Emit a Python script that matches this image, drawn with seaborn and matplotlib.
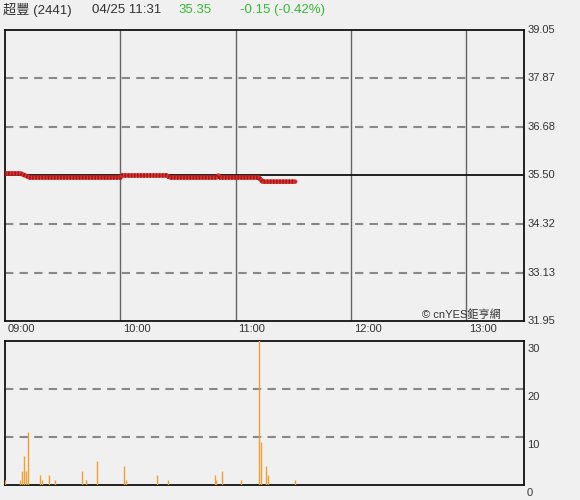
import seaborn as sns
import pandas as pd
import numpy as np
import matplotlib.pyplot as plt

# price path: minutes after 09:00 and price
price_min = [0, 8, 13, 60, 61, 84, 86, 110, 111, 112, 132, 134, 151]
price_val = [35.55, 35.55, 35.45, 35.45, 35.50, 35.50, 35.45, 35.45, 35.50, 35.45, 35.45, 35.35, 35.35]

# volume per minute (only minutes with trades)
vol_min = [0, 8, 9, 10, 11, 12, 18, 19, 23, 26, 40, 42, 48, 62, 63, 79, 85, 109, 110, 113, 123, 132, 133, 136, 137, 151]
vol_val = [1, 1, 3, 6, 3, 11, 2, 1, 2, 1, 3, 1, 5, 4, 1, 2, 1, 2, 1, 3, 1, 32, 9, 4, 2, 1]

price_ticks = [31.95, 33.13, 34.32, 35.50, 36.68, 37.87, 39.05]
vol_ticks = [0, 10, 20, 30]
time_ticks = [0, 60, 120, 180, 240]
time_labels = ["09:00", "10:00", "11:00", "12:00", "13:00"]

sns.set_theme(style="white")
plt.rcParams['font.family'] = ['Liberation Sans', 'Noto Sans CJK TC', 'DejaVu Sans']

bg = "#f0f0f0"
fig = plt.figure(figsize=(5.8, 5.0), dpi=100, facecolor=bg)
ax = fig.add_axes([5/580, 1-321/500, 519/580, 291/500], facecolor=bg)
ax2 = fig.add_axes([5/580, 1-485/500, 519/580, 144/500], facecolor=bg)

df = pd.DataFrame({"t": price_min, "p": price_val})

# grid lines in the price panel
for t in time_ticks[1:]:
    ax.axvline(t, color="#666666", lw=1, zorder=1)
for p in price_ticks[1:-1]:
    if p == 35.50:
        ax.axhline(p, color="#111111", lw=1.3, zorder=1)
    else:
        ax.axhline(p, color="#888888", lw=1.5, ls=(0, (4, 3)), zorder=1)

sns.lineplot(data=df, x="t", y="p", ax=ax, color="#e03030", lw=3.2, zorder=3)
ax.plot(df["t"], df["p"], color="#a01a1a", lw=3.2, ls=(0, (0.35, 0.35)), zorder=4)

ax.set_xlim(0, 270)
ax.set_ylim(31.95, 39.05)
ax.set_xlabel("")
ax.set_ylabel("")
ax.set_xticks([])
ax.set_yticks([])
for s in ax.spines.values():
    s.set_color("#111111")
    s.set_linewidth(1.3)

for p in price_ticks:
    ax.text(1.006, p, f"{p:.2f}", transform=ax.get_yaxis_transform(), ha="left",
            va="center", fontsize=8, color="#333333", clip_on=False)
for t, lab in zip(time_ticks, time_labels):
    ax.text(t + 1.5, -0.012, lab, transform=ax.get_xaxis_transform(), ha="left",
            va="top", fontsize=8, color="#333333", clip_on=False)

ax.text(0.955, 0.003, "© cnYES鉅亨網", transform=ax.transAxes, ha="right", va="bottom",
        fontsize=8, color="#333333")

# volume panel
for v in vol_ticks[1:3]:
    ax2.axhline(v, color="#888888", lw=1.5, ls=(0, (4, 3)), zorder=1)
ax2.vlines(vol_min, 0, vol_val, color="#f0a030", lw=1, zorder=3)
ax2.set_xlim(0, 270)
ax2.set_ylim(0, 30)
ax2.set_xticks([])
ax2.set_yticks([])
for s in ax2.spines.values():
    s.set_color("#111111")
    s.set_linewidth(1.3)
for v in vol_ticks:
    ax2.text(1.006, v - 0.6, str(v), transform=ax2.get_yaxis_transform(), ha="left",
             va="top", fontsize=8, color="#333333", clip_on=False)

# header line
fig.text(3/580, 1-10/500, "超豐 (2441)", ha="left", va="center", fontsize=9.5, color="#333333")
fig.text(92/580, 1-10/500, "04/25 11:31", ha="left", va="center", fontsize=9.5, color="#333333")
fig.text(178/580, 1-10/500, "35.35", ha="left", va="center", fontsize=9.5, color="#33bb33")
fig.text(240/580, 1-10/500, "-0.15 (-0.42%)", ha="left", va="center", fontsize=9.5, color="#33bb33")

fig.savefig("out.png", dpi=100, facecolor=bg)
